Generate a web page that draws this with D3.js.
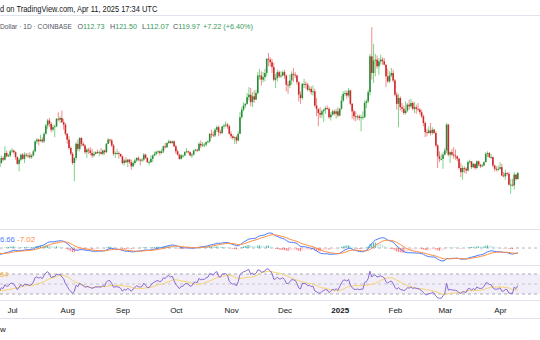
<!DOCTYPE html>
<html><head><meta charset="utf-8">
<script src="https://cdn.jsdelivr.net/npm/d3@7"></script>
<style>
html,body{margin:0;padding:0;background:#fff;overflow:hidden}
svg{display:block;font-family:"Liberation Sans",Arial,sans-serif}
</style></head><body>
<svg id="c" width="540" height="340"></svg>
<script>
// ---- data (SOL/USD daily, COINBASE) ----
const startDate = "2024-05-15";
const closes = [
 // May 15-31
 161,163,171,172,167,186,177,175,172,176,168,163,168,175,167,167,166,
 // Jun
 166,163,165,172,173,172,161,160,161,158,148,154,145,145,149,151,145,134,135,134,132,132,127,132,138,136,144,140,141,146,
 // Jul
 147,145,139,131,136,142,137,142,141,141,139,141,146,158,160,158,160,158,167,177,183,179,172,175,176,185,184,186,181,178,167,
 // Aug
 160,150,143,132,138,155,149,162,155,153,145,148,147,144,141,143,145,144,145,143,147,145,155,160,159,153,143,144,144,143,140,
 // Sep
 132,135,133,136,133,128,132,135,138,136,135,136,142,138,133,133,137,141,143,145,146,144,146,152,151,156,158,156,158,152,
 // Oct
 146,142,137,141,141,145,146,145,141,142,147,148,147,155,153,154,154,157,158,167,166,165,172,175,169,168,176,177,178,176,167,
 // Nov
 164,162,163,159,167,187,196,201,203,211,214,205,212,208,216,237,237,232,235,240,257,256,253,247,232,234,241,236,237,241,
 // Dec
 237,226,225,231,239,238,237,229,214,210,227,227,226,220,221,217,218,201,197,192,190,194,196,198,197,187,190,194,191,194,189,
 // Jan
 197,207,215,216,213,219,203,194,188,187,188,186,187,187,204,206,217,260,240,255,256,248,254,256,254,250,236,230,237,240,231,
 // Feb
 214,203,210,199,197,192,195,202,200,204,197,199,197,196,193,188,180,169,168,171,168,172,168,153,140,137,137,142,
 // Mar
 147,178,142,145,142,141,140,137,126,121,126,125,123,133,134,127,131,126,134,130,128,129,133,143,144,139,139,129,125,124,125,
 // Apr 1-11
 127,117,116,120,119,106,106,105,118,112.75,119.97
];
const highs = [
 162,167,174,176,174,187,188,180,178,179,177,170,172,178,176,170,170,
 168,168,169,174,176,175,177,163,163,162,160,158,155,150,151,153,153,146,138,140,136,135,133,136,141,140,152,147,143,148,
 150,148,146,140,138,143,144,145,144,144,145,143,148,159,162,161,166,163,169,179,185,186,181,178,178,186,193,188,195,185,180,
 168,164,152,145,139,157,160,163,163,157,155,150,150,151,149,146,146,148,147,150,148,148,156,162,161,161,155,146,149,146,143,
 141,137,139,137,137,136,134,137,139,140,137,138,144,143,139,135,141,142,146,147,147,147,149,153,156,157,160,159,159,159,
 154,148,143,143,142,146,150,147,146,144,148,149,149,157,159,157,156,158,159,168,172,170,174,177,177,172,176,179,182,180,178,
 170,166,164,165,170,193,199,205,204,216,223,222,217,219,220,241,245,242,241,245,258,264,259,257,252,239,244,243,242,243,
 244,238,230,238,242,246,241,238,230,218,228,233,230,228,224,224,225,221,210,196,199,196,197,200,201,199,193,196,196,197,199,
 198,213,218,219,219,222,220,204,196,194,190,190,190,194,207,208,220,263,295,275,263,261,258,262,259,258,250,245,242,246,244,
 233,217,215,212,204,201,206,204,208,209,206,205,202,204,198,196,190,182,173,176,180,175,173,170,155,146,143,145,
 150,180,179,146,149,151,148,141,138,132,129,128,127,135,136,134,132,131,135,135,131,131,134,145,146,145,143,140,130,128,129,
 133,131,121,124,121,121,113,113,121,119,121.5
];
const lows = [
 145,158,162,169,165,165,174,172,159,168,167,162,162,165,166,163,163,
 164,162,161,163,170,168,158,158,158,156,145,146,144,138,144,147,141,128,131,133,128,130,126,122,131,134,135,139,139,139,
 144,143,136,130,122,134,136,132,139,138,137,137,140,145,155,153,158,156,156,166,173,175,169,170,163,175,182,180,180,172,165,
 155,148,141,130,110,135,146,146,152,152,143,138,143,141,138,139,142,143,140,142,141,142,144,155,156,151,141,138,142,137,139,
 130,129,132,127,131,124,127,130,133,134,129,133,134,137,132,129,132,133,140,141,143,141,143,144,149,150,155,155,155,151,
 143,141,136,136,138,140,144,143,140,138,141,146,145,146,150,151,151,152,156,156,162,163,163,169,164,166,167,173,175,173,166,
 161,160,155,155,158,167,185,194,198,202,207,200,199,204,208,214,232,225,229,230,236,248,248,240,230,222,230,234,234,236,
 233,218,215,222,226,229,234,226,206,203,208,222,221,218,218,214,213,199,188,176,186,186,181,191,196,185,183,189,189,185,187,
 188,196,205,212,209,211,201,185,183,182,184,183,170,184,186,198,204,213,232,228,236,245,238,250,250,249,223,228,228,235,229,
 212,196,175,195,193,190,190,193,196,198,195,192,191,194,190,186,176,163,164,167,165,166,167,151,126,133,135,125,
 141,144,140,132,140,137,136,134,124,115,112,120,119,122,131,125,126,124,125,128,126,127,128,133,139,138,137,127,122,122,122,
 124,116,115,112,117,105,95,104,100,111,112.07
];
const monthTicks = ["2024-07-01","2024-08-01","2024-09-01","2024-10-01","2024-11-01","2024-12-01","2025-01-01","2025-02-01","2025-03-01","2025-04-01"];
const monthLabels = ["Jul","Aug","Sep","Oct","Nov","Dec","2025","Feb","Mar","Apr"];
const headerLine1 = "d on TradingView.com, Apr 11, 2025 17:34 UTC";
const symbolText = "Dollar · 1D · COINBASE";
const ohlcLetters = ["O","H","L","C"];
const ohlcValues = ["112.73","121.50","112.07","119.97"];
const changeText = "+7.22 (+6.40%)";
const macdLegend = ["6.66","-7.02"];
const rsiLegend = ["64"];
const footerText = "w";

// ---- derived series ----
const parse = d3.utcParse("%Y-%m-%d");
const t0 = parse(startDate);
const bars = closes.map((c, i) => ({
  date: d3.utcDay.offset(t0, i),
  open: i === 0 ? c : closes[i - 1],
  high: highs[i], low: lows[i], close: c
}));

function ema(arr, n) {
  const k = 2 / (n + 1); let prev = null;
  return arr.map(v => { prev = prev == null ? v : v * k + prev * (1 - k); return prev; });
}
const e12 = ema(closes, 12), e26 = ema(closes, 26);
const macd = closes.map((c, i) => e12[i] - e26[i]);
const signal = ema(macd, 9);
const hist = macd.map((m, i) => m - signal[i]);

const rsi = new Array(closes.length).fill(null);
let ag = 0, al = 0;
for (let i = 1; i < closes.length; i++) {
  const ch = closes[i] - closes[i - 1], g = Math.max(ch, 0), l = Math.max(-ch, 0);
  if (i <= 14) { ag += g / 14; al += l / 14; if (i === 14) rsi[i] = 100 - 100 / (1 + ag / al); }
  else { ag = (ag * 13 + g) / 14; al = (al * 13 + l) / 14; rsi[i] = al === 0 ? 100 : 100 - 100 / (1 + ag / al); }
}
const rsiMa = rsi.map((v, i) => {
  if (i < 27) return null;
  let s = 0; for (let j = i - 13; j <= i; j++) s += rsi[j]; return s / 14;
});

// ---- scales ----
const W = 540;
const x = d3.scaleUtc().domain([parse("2024-07-01"), parse("2025-04-01")]).range([12, 500]);
const yP = d3.scaleLinear().domain([120, 240]).range([173, 73]);
const yM = d3.scaleLinear().domain([0, 14]).range([248, 238]);
const yR = d3.scaleLinear().domain([30, 70]).range([294, 274]);

const svg = d3.select("#c");
svg.append("rect").attr("width", W).attr("height", 340).attr("fill", "#fff");

// separators
[15.5, 229.5, 265.5, 300.5, 318.5].forEach(y =>
  svg.append("line").attr("x1", 0).attr("x2", W).attr("y1", y).attr("y2", y)
    .attr("stroke", "#e0e3eb").attr("stroke-width", 1));

// header: text squeezed horizontally to the measured widths
function fitText(px, py, width, size, build) {
  const t = svg.append("text").attr("x", 0).attr("y", 0).attr("font-size", size);
  build(t);
  const natural = t.node().getComputedTextLength();
  t.attr("transform", `translate(${px},${py}) scale(${width / natural},1)`);
  return t;
}
fitText(0, 12, 157, 8.4, t => t.attr("fill", "#131722").text(headerLine1));
fitText(0, 28.5, 72, 7.8, t => t.attr("fill", "#50535e").text(symbolText));
const ohlcX = [77.5, 110, 142, 173];
ohlcLetters.forEach((L, i) => fitText(ohlcX[i], 28.5, 27, 7.8, t => {
  t.append("tspan").attr("fill", "#50535e").text(L);
  t.append("tspan").attr("fill", "#3a9a5c").text(ohlcValues[i]);
}));
fitText(203, 28.5, 50, 7.8, t => t.attr("fill", "#3a9a5c").text(changeText));

// candles
const upBody = "#2c8a3a", upWick = "#7fd487", dnBody = "#cc2a2a", dnWick = "#f08c8c";
const cg = svg.append("g");
bars.forEach(b => {
  const up = b.close >= b.open, cx = x(b.date);
  cg.append("line").attr("x1", cx).attr("x2", cx).attr("y1", yP(b.high)).attr("y2", yP(b.low))
    .attr("stroke", up ? upWick : dnWick).attr("stroke-width", 1);
  const y1 = yP(Math.max(b.open, b.close)), y2 = yP(Math.min(b.open, b.close));
  cg.append("rect").attr("x", cx - 0.8).attr("width", 1.6).attr("y", y1)
    .attr("height", Math.max(0.9, y2 - y1)).attr("fill", up ? upBody : dnBody);
});

// MACD pane
svg.append("line").attr("x1", 0).attr("x2", W).attr("y1", yM(0)).attr("y2", yM(0))
  .attr("stroke", "#a3a6af").attr("stroke-dasharray", "3,3").attr("stroke-width", 0.8);
const hg = svg.append("g");
bars.forEach((b, i) => {
  const h = hist[i], prev = i > 0 ? hist[i - 1] : h;
  const col = h >= 0 ? (h >= prev ? "#26a69a" : "#b2dfdb") : (h < prev ? "#ff5252" : "#ffcdd2");
  const ya = yM(Math.max(0, h)), yb = yM(Math.min(0, h));
  hg.append("rect").attr("x", x(b.date) - 0.5).attr("width", 1).attr("y", ya)
    .attr("height", Math.max(0.3, yb - ya)).attr("fill", col).attr("opacity", 0.8);
});
const lineM = arr => d3.line().x((d, i) => x(bars[i].date)).y(d => yM(d))(arr);
svg.append("path").attr("d", lineM(macd)).attr("fill", "none").attr("stroke", "#4a7bff").attr("stroke-width", 1);
svg.append("path").attr("d", lineM(signal)).attr("fill", "none").attr("stroke", "#ff8a3d").attr("stroke-width", 1);
svg.append("text").attr("x", 0).attr("y", 242).attr("font-size", 7.6).attr("fill", "#4a7bff").text(macdLegend[0]);
svg.append("text").attr("x", 17).attr("y", 242).attr("font-size", 8).attr("fill", "#ff8a3d").text(macdLegend[1]);

// RSI pane
svg.append("rect").attr("x", 0).attr("width", W).attr("y", yR(70)).attr("height", yR(30) - yR(70))
  .attr("fill", "rgba(126,87,194,0.1)");
[[70, "#9598a1"], [50, "#b8bac1"], [30, "#9598a1"]].forEach(([v, c]) =>
  svg.append("line").attr("x1", 0).attr("x2", W).attr("y1", yR(v)).attr("y2", yR(v))
    .attr("stroke", c).attr("stroke-dasharray", "3,3").attr("stroke-width", 0.8));
const lineR = d3.line().defined(d => d.v != null).x(d => x(d.date)).y(d => yR(d.v));
svg.append("path").attr("d", lineR(bars.map((b, i) => ({ date: b.date, v: rsiMa[i] }))))
  .attr("fill", "none").attr("stroke", "#f7d36a").attr("stroke-width", 1);
svg.append("path").attr("d", lineR(bars.map((b, i) => ({ date: b.date, v: rsi[i] }))))
  .attr("fill", "none").attr("stroke", "#8a6ad0").attr("stroke-width", 1);
svg.append("text").attr("x", 0).attr("y", 277).attr("font-size", 7.5).attr("fill", "#f2b33a").text(rsiLegend[0]);

// time axis
const ax = svg.append("g").attr("transform", "translate(0,303)")
  .call(d3.axisBottom(x).tickValues(monthTicks.map(parse)).tickFormat((d, i) => monthLabels[i]).tickSize(0).tickPadding(4));
ax.select(".domain").remove();
ax.selectAll("text").attr("font-size", 8).attr("fill", "#131722")
  .attr("font-family", "'Liberation Sans',Arial,sans-serif")
  .attr("font-weight", (d, i) => monthLabels[i] === "2025" ? "bold" : "normal");

// footer
svg.append("text").attr("x", 0).attr("y", 332).attr("font-size", 8).attr("fill", "#131722").text(footerText);
</script>
</body></html>
